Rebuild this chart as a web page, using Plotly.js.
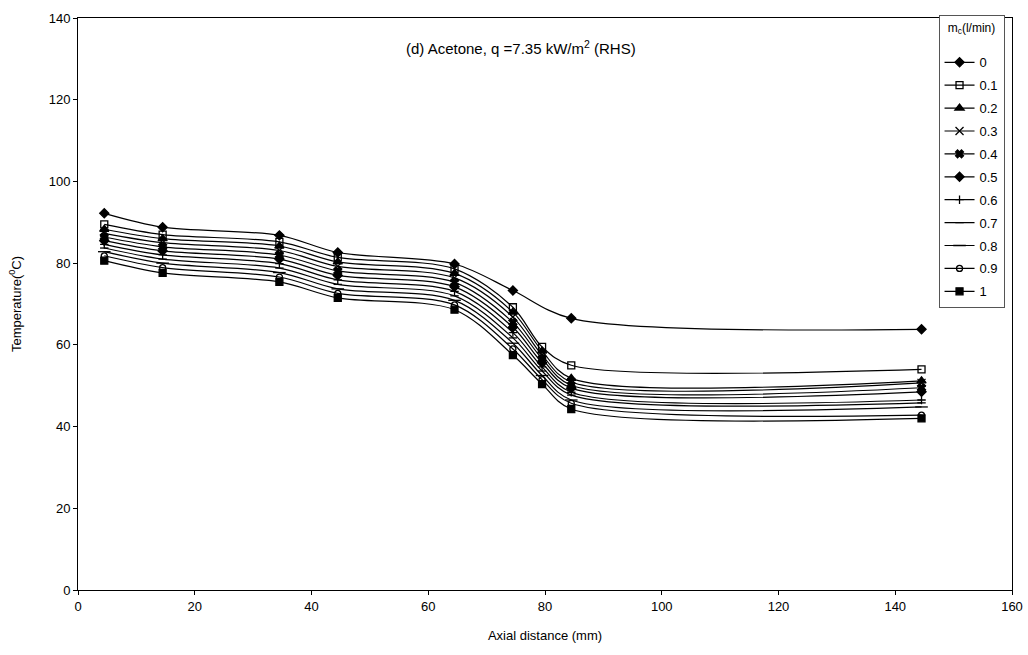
<!DOCTYPE html>
<html>
<head>
<meta charset="utf-8">
<script src="https://cdn.plot.ly/plotly-3.0.1.min.js"></script>
<style>
  html, body { margin: 0; padding: 0; background: #fff; }
  #chart { width: 1028px; height: 655px; }
</style>
</head>
<body>
<div id="chart"></div>
<script>
// Axial thermocouple positions (mm)
const xNoCoolant = [4.5, 14.5, 34.5, 44.5, 64.5, 74.5, 84.5, 144.5];
const xCoolant   = [4.5, 14.5, 34.5, 44.5, 64.5, 74.5, 79.5, 84.5, 144.5];

// Coolant flow rates (l/min) used as legend labels
const flowLabels = ['0', '0.1', '0.2', '0.3', '0.4', '0.5', '0.6', '0.7', '0.8', '0.9', '1'];

// Wall temperatures (°C) for each coolant flow rate
const temp_0   = [92.2, 88.8, 86.8, 82.6, 79.8, 73.3, 66.5, 63.8];
const temp_0_1 = [89.5, 87.0, 85.2, 81.4, 78.6, 69.2, 59.5, 55.0, 54.0];
const temp_0_2 = [88.3, 86.0, 84.2, 80.3, 77.5, 68.0, 58.5, 51.8, 51.2];
const temp_0_3 = [87.3, 85.0, 83.1, 79.2, 76.4, 66.8, 57.5, 50.9, 50.7];
const temp_0_4 = [86.4, 84.0, 82.0, 78.1, 75.3, 65.5, 56.6, 50.1, 49.5];
const temp_0_5 = [85.5, 83.0, 81.0, 77.0, 74.2, 64.3, 55.6, 49.4, 48.5];
const temp_0_6 = [84.6, 82.0, 79.9, 75.9, 73.1, 63.0, 54.6, 48.4, 46.5];
const temp_0_7 = [83.7, 81.0, 78.8, 74.8, 72.0, 61.7, 53.6, 47.7, 45.8];
const temp_0_8 = [82.8, 80.0, 77.7, 73.7, 70.9, 60.4, 52.5, 46.5, 44.8];
const temp_0_9 = [81.8, 78.9, 76.6, 72.6, 69.8, 59.0, 51.5, 45.7, 42.8];
const temp_1   = [80.6, 77.6, 75.4, 71.5, 68.6, 57.5, 50.4, 44.3, 42.0];

const seriesTemps = [temp_0, temp_0_1, temp_0_2, temp_0_3, temp_0_4, temp_0_5,
                     temp_0_6, temp_0_7, temp_0_8, temp_0_9, temp_1];

// Marker style per flow rate
const markerStyles = [
  { symbol: 'diamond',         size: 7 },
  { symbol: 'square-open',     size: 7 },
  { symbol: 'triangle-up',     size: 8 },
  { symbol: 'x-thin-open',     size: 8 },
  { symbol: 'x',               size: 7 },
  { symbol: 'diamond',         size: 7 },
  { symbol: 'cross-thin-open', size: 6 },
  { symbol: 'line-ew-open',    size: 6 },
  { symbol: 'line-ew-open',    size: 9 },
  { symbol: 'circle-open',     size: 6 },
  { symbol: 'square',          size: 7 }
];

const traces = seriesTemps.map((y, i) => ({
  type: 'scatter',
  mode: 'lines+markers',
  name: flowLabels[i],
  legendgroup: 'g' + i,
  x: i === 0 ? xNoCoolant : xCoolant,
  y: y,
  line: { color: '#000', width: 1.2, shape: 'spline', smoothing: 0.9 },
  marker: {
    symbol: markerStyles[i].symbol,
    size: markerStyles[i].size,
    color: '#000',
    line: { color: '#000', width: 1.3 }
  }
}));

const baseFont = { family: 'Liberation Sans, Arial, sans-serif', color: '#000' };

const layout = {
  width: 1028,
  height: 655,
  paper_bgcolor: '#fff',
  plot_bgcolor: '#fff',
  margin: { l: 78, r: 16, t: 18, b: 65 },
  showlegend: true,
  font: Object.assign({}, baseFont, { size: 13 }),
  xaxis: {
    range: [0, 160],
    tickvals: [0, 20, 40, 60, 80, 100, 120, 140, 160],
    showgrid: false,
    zeroline: false,
    showline: true,
    mirror: true,
    linecolor: '#000',
    linewidth: 1,
    ticks: 'outside',
    ticklen: 4,
    tickcolor: '#000',
    tickfont: Object.assign({}, baseFont, { size: 13 }),
    title: { text: 'Axial distance (mm)', font: Object.assign({}, baseFont, { size: 13 }), standoff: 18 }
  },
  yaxis: {
    range: [0, 140],
    tickvals: [0, 20, 40, 60, 80, 100, 120, 140],
    showgrid: false,
    zeroline: false,
    showline: true,
    mirror: true,
    linecolor: '#000',
    linewidth: 1,
    ticks: 'outside',
    ticklen: 4,
    tickcolor: '#000',
    tickfont: Object.assign({}, baseFont, { size: 13 }),
    title: { text: 'Temperature(<sup>0</sup>C)', font: Object.assign({}, baseFont, { size: 13 }), standoff: 24 }
  },
  legend: {
    x: 0.992,
    xanchor: 'right',
    y: 1.005,
    yanchor: 'top',
    bgcolor: '#fff',
    bordercolor: '#555',
    borderwidth: 1,
    font: Object.assign({}, baseFont, { size: 13 }),
    tracegroupgap: 3,
    itemwidth: 30,
    title: { text: 'm<sub>c</sub>(l/min)<br>', side: 'top center', font: Object.assign({}, baseFont, { size: 12 }) }
  },
  annotations: [{
    xref: 'paper', yref: 'paper',
    x: 0.474, y: 0.948,
    xanchor: 'center', yanchor: 'middle',
    showarrow: false,
    text: '(d) Acetone, q =7.35 kW/m<sup>2</sup> (RHS)',
    font: Object.assign({}, baseFont, { size: 15 })
  }]
};

Plotly.newPlot('chart', traces, layout, { displayModeBar: false, staticPlot: true });
</script>
</body>
</html>
